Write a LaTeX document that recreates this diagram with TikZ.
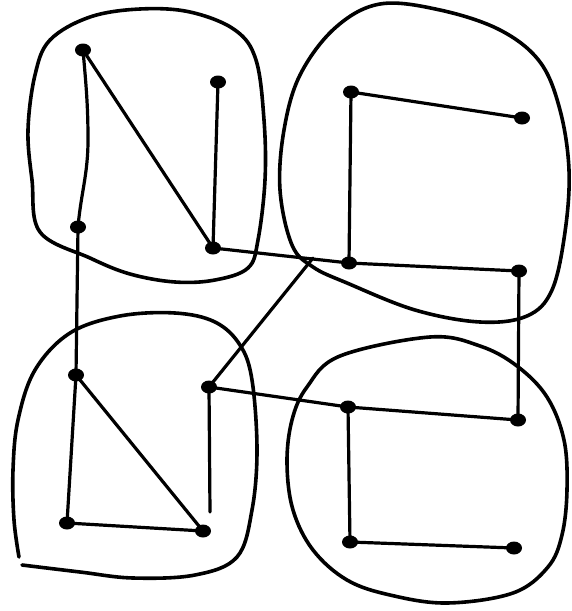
\documentclass[tikz,border=0pt]{standalone}
\usetikzlibrary{shapes.geometric}
\begin{document}
\begin{tikzpicture}[x=1pt,y=-1pt,line cap=round,line join=round,
  dot/.style={ellipse,fill=black,inner sep=0pt,minimum width=16pt,minimum height=13pt},
  blob/.style={line width=3.6pt},
  edge/.style={line width=3.2pt}]
\useasboundingbox (0,0) rectangle (571,611);
% clusters
\draw[blob] plot[smooth cycle,tension=0.6] coordinates {(40,232) (32,180) (28,130) (35,75) (50,40) (90,17) (140,9) (190,12) (235,30) (256,60) (264,120) (265,180) (258,240) (248,268) (215,280) (175,282) (130,274) (90,258)};
\draw[blob] plot[smooth cycle,tension=0.6] coordinates {(380,4) (440,10) (500,30) (540,62) (560,110) (569,170) (565,232) (552,290) (527,316) (480,322) (415,310) (347,283) (313,267) (292,245) (280,190) (284,130) (300,75) (335,28)};
\draw[blob] plot[smooth,tension=0.6] coordinates {(22,565) (80,572) (133,578) (195,575) (237,557) (252,510) (257,450) (252,380) (240,345) (215,322) (175,313) (120,316) (70,333) (35,370) (18,420) (13,470) (14,520) (19,557)};
\draw[blob] plot[smooth cycle,tension=0.6] coordinates {(430,337) (480,346) (517,366) (547,397) (564,440) (567,490) (562,535) (548,567) (513,593) (447,603) (390,595) (347,580) (313,550) (293,510) (287,463) (292,420) (307,387) (340,356)};
% nodes
\node[dot] (A) at (83,50) {};
\node[dot] (B) at (218,82) {};
\node[dot] (C) at (78,227) {};
\node[dot] (D) at (213,248) {};
\node[dot] (E) at (351,92) {};
\node[dot] (F) at (522,118) {};
\node[dot] (G) at (349,263) {};
\node[dot] (H) at (519,271) {};
\node[dot] (I) at (76,375) {};
\node[dot] (J) at (209,387) {};
\node[dot] (K) at (67,523) {};
\node[dot] (L) at (203,531) {};
\node[dot] (M) at (348,407) {};
\node[dot] (N) at (518,420) {};
\node[dot] (O) at (350,542) {};
\node[dot] (P) at (514,548) {};
\coordinate (X) at (313,258);
\coordinate (Y) at (210,512);
% connectors
\draw[edge] (A.center) to[out=-85,in=90] (88,140) to[out=-90,in=85] (C.center);
\draw[edge] (A.center) -- (D.center);
\draw[edge] (B.center) -- (D.center);
\draw[edge] (C.center) -- (I.center);
\draw[edge] (D.center) -- (G.center);
\draw[edge] (G.center) -- (H.center);
\draw[edge] (E.center) -- (G.center);
\draw[edge] (E.center) -- (F.center);
\draw[edge] (H.center) -- (N.center);
\draw[edge] (I.center) -- (K.center);
\draw[edge] (I.center) -- (L.center);
\draw[edge] (K.center) -- (L.center);
\draw[edge] (J.center) -- (X);
\draw[edge] (J.center) -- (Y);
\draw[edge] (J.center) -- (M.center);
\draw[edge] (M.center) -- (N.center);
\draw[edge] (M.center) -- (O.center);
\draw[edge] (O.center) -- (P.center);
\end{tikzpicture}
\end{document}
